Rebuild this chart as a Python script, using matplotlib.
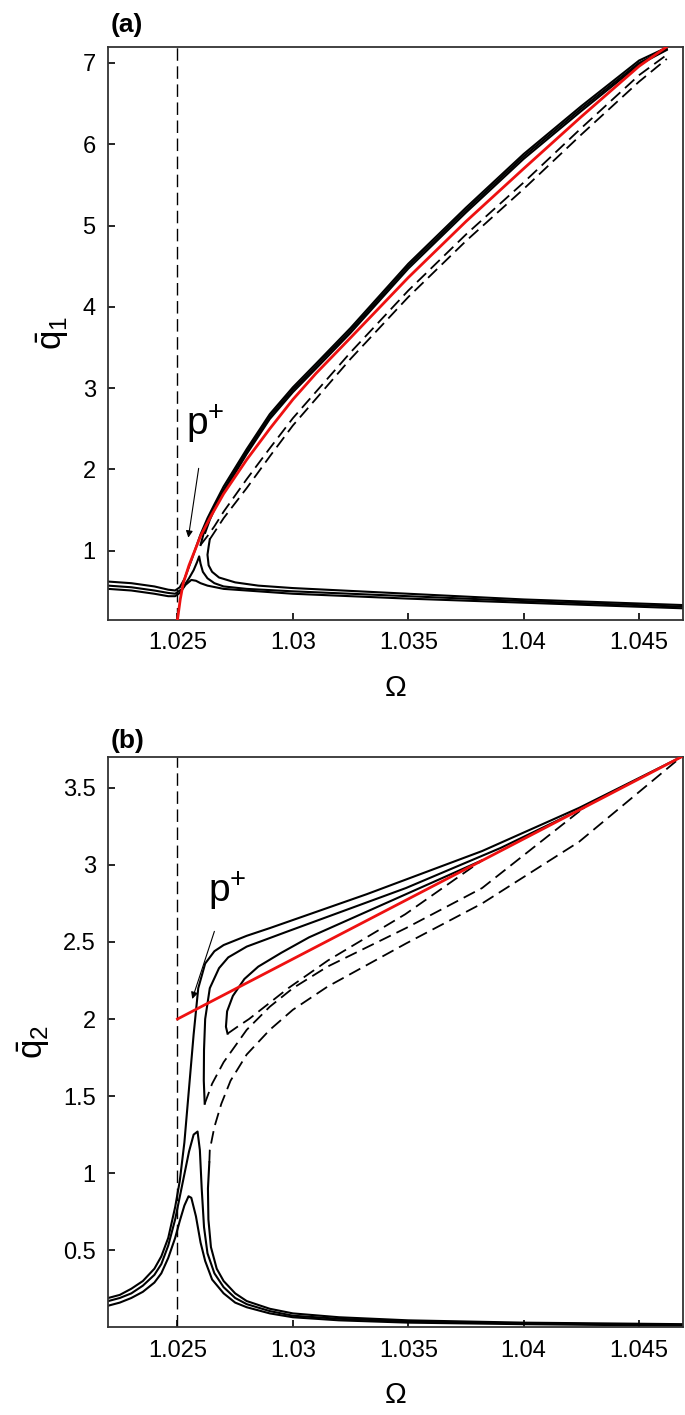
import matplotlib
matplotlib.use("Agg")
import matplotlib.pyplot as plt

plt.rcParams['font.family'] = ['Liberation Sans', 'DejaVu Sans']
plt.rcParams['mathtext.fontset'] = 'custom'
plt.rcParams['mathtext.rm'] = 'Liberation Sans'
plt.rcParams['mathtext.it'] = 'Liberation Sans'

# ---------------- Panel (a): q1 ----------------
a_red_x = [1.025, 1.02512, 1.02525, 1.0255, 1.026, 1.0265, 1.027, 1.028, 1.029, 1.03, 1.031, 1.0325, 1.035, 1.0375, 1.04, 1.0425, 1.045, 1.0462]
a_red_y = [0.15, 0.4, 0.6, 0.82, 1.18, 1.45, 1.7, 2.12, 2.50, 2.86, 3.18, 3.62, 4.36, 5.05, 5.70, 6.34, 6.96, 7.2]

a_A_low_x = [1.022, 1.023, 1.024, 1.0246, 1.0249, 1.0251, 1.02535, 1.0256, 1.0258, 1.026, 1.0263, 1.027, 1.028, 1.03, 1.035, 1.04, 1.047]
a_A_low_y = [0.53, 0.51, 0.47, 0.44, 0.44, 0.48, 0.58, 0.64, 0.63, 0.60, 0.57, 0.53, 0.51, 0.47, 0.41, 0.36, 0.29]
a_B_low_x = [1.022, 1.023, 1.024, 1.0246, 1.0249, 1.0252, 1.0255, 1.0257, 1.02585, 1.02594, 1.026, 1.0261, 1.0263, 1.0266, 1.027, 1.028, 1.03, 1.035, 1.04, 1.047]
a_B_low_y = [0.57, 0.55, 0.51, 0.48, 0.47, 0.53, 0.66, 0.76, 0.86, 0.93, 0.84, 0.74, 0.66, 0.60, 0.56, 0.53, 0.50, 0.44, 0.38, 0.31]
a_C_main_x = [1.022, 1.023, 1.024, 1.0246, 1.0249, 1.0251, 1.0253, 1.0256, 1.026, 1.0263, 1.0266, 1.027, 1.028, 1.029, 1.03, 1.031, 1.0325, 1.035, 1.0375, 1.04, 1.0425, 1.045, 1.0462]
a_C_main_y = [0.62, 0.60, 0.56, 0.52, 0.51, 0.55, 0.65, 0.88, 1.2, 1.40, 1.57, 1.79, 2.25, 2.68, 3.01, 3.30, 3.74, 4.53, 5.22, 5.88, 6.47, 7.03, 7.19]
a_C_low_x = [1.0264, 1.02635, 1.0263, 1.02635, 1.0265, 1.0268, 1.0275, 1.0285, 1.03, 1.035, 1.04, 1.047]
a_C_low_y = [1.14, 1.05, 0.95, 0.82, 0.74, 0.67, 0.61, 0.57, 0.54, 0.47, 0.40, 0.33]
a_C_dash_x = [1.0264, 1.0267, 1.027, 1.028, 1.029, 1.03, 1.0325, 1.035, 1.0375, 1.04, 1.0425, 1.045, 1.0462]
a_C_dash_y = [1.14, 1.27, 1.40, 1.77, 2.16, 2.54, 3.36, 4.12, 4.81, 5.45, 6.12, 6.77, 7.05]
a_B_up_x = [1.0260, 1.0262, 1.0266, 1.027, 1.028, 1.029, 1.03, 1.031, 1.0325, 1.035, 1.0375, 1.04, 1.0425, 1.045, 1.0462]
a_B_up_y = [1.07, 1.28, 1.53, 1.75, 2.22, 2.65, 2.98, 3.27, 3.71, 4.50, 5.19, 5.85, 6.44, 7.0, 7.17]
a_B_dash_x = [1.0260, 1.0263, 1.0266, 1.027, 1.028, 1.029, 1.03, 1.0325, 1.035, 1.0375, 1.04, 1.0425, 1.045, 1.0462]
a_B_dash_y = [1.07, 1.18, 1.3, 1.48, 1.88, 2.26, 2.63, 3.44, 4.20, 4.89, 5.53, 6.2, 6.85, 7.1]
a_A_up_x = [1.0262, 1.0264, 1.0267, 1.027, 1.028, 1.029, 1.03, 1.031, 1.0325, 1.035, 1.0375, 1.04, 1.0425, 1.045, 1.0462]
a_A_up_y = [1.22, 1.38, 1.57, 1.72, 2.19, 2.62, 2.95, 3.24, 3.68, 4.47, 5.16, 5.82, 6.41, 6.98, 7.16]

# ---------------- Panel (b): q2 ----------------
b_red_x = [1.025, 1.04682]
b_red_y = [2.0, 3.70]

b_C_main_x = [1.022, 1.0225, 1.023, 1.0235, 1.024, 1.0243, 1.0246, 1.0249, 1.0251, 1.0253, 1.0255, 1.0257, 1.0259, 1.0262, 1.0266, 1.027, 1.028, 1.029, 1.0332, 1.0382, 1.0424, 1.04682]
b_C_main_y = [0.19, 0.21, 0.25, 0.30, 0.38, 0.46, 0.58, 0.78, 0.95, 1.2, 1.55, 1.9, 2.2, 2.36, 2.44, 2.48, 2.54, 2.59, 2.81, 3.09, 3.37, 3.70]
b_C_low_x = [1.02638, 1.02632, 1.02634, 1.02645, 1.0267, 1.027, 1.0275, 1.028, 1.029, 1.03, 1.032, 1.035, 1.04, 1.047]
b_C_low_y = [1.07, 0.9, 0.7, 0.52, 0.38, 0.30, 0.22, 0.17, 0.12, 0.09, 0.065, 0.045, 0.03, 0.02]
b_C_dash_x = [1.02638, 1.0264, 1.0266, 1.0269, 1.0273, 1.028, 1.029, 1.030, 1.0315, 1.0349, 1.0382, 1.0424, 1.04682]
b_C_dash_y = [1.07, 1.15, 1.3, 1.45, 1.6, 1.77, 1.93, 2.06, 2.21, 2.49, 2.75, 3.15, 3.70]

b_B_low_x = [1.022, 1.0225, 1.023, 1.0235, 1.024, 1.0243, 1.0246, 1.0249, 1.0252, 1.0255, 1.0257, 1.02587, 1.02597, 1.02605, 1.02615, 1.0263, 1.0266, 1.027, 1.0275, 1.028, 1.029, 1.03, 1.032, 1.035, 1.04, 1.047]
b_B_low_y = [0.17, 0.19, 0.22, 0.27, 0.34, 0.41, 0.53, 0.70, 0.92, 1.14, 1.25, 1.27, 1.15, 0.9, 0.65, 0.48, 0.35, 0.26, 0.19, 0.15, 0.105, 0.075, 0.055, 0.038, 0.025, 0.015]
b_B_up_x = [1.02618, 1.02614, 1.02615, 1.0262, 1.0264, 1.0268, 1.0272, 1.028, 1.0298, 1.0349, 1.039, 1.0426]
b_B_up_y = [1.45, 1.6, 1.8, 2.0, 2.2, 2.33, 2.40, 2.47, 2.57, 2.85, 3.11, 3.37]
b_B_dash_x = [1.02618, 1.0265, 1.027, 1.028, 1.029, 1.030, 1.0315, 1.0349, 1.0382, 1.0426]
b_B_dash_y = [1.45, 1.58, 1.72, 1.93, 2.08, 2.2, 2.34, 2.59, 2.85, 3.37]

b_A_low_x = [1.022, 1.0225, 1.023, 1.0235, 1.024, 1.0243, 1.0246, 1.0249, 1.0251, 1.0253, 1.02548, 1.0256, 1.0258, 1.026, 1.0262, 1.0265, 1.027, 1.0275, 1.028, 1.029, 1.03, 1.032, 1.035, 1.04, 1.047]
b_A_low_y = [0.14, 0.16, 0.19, 0.23, 0.29, 0.35, 0.45, 0.58, 0.69, 0.79, 0.85, 0.84, 0.72, 0.55, 0.43, 0.31, 0.22, 0.16, 0.13, 0.09, 0.065, 0.045, 0.03, 0.02, 0.01]
b_A_up_x = [1.02717, 1.0271, 1.02715, 1.0274, 1.0279, 1.0285, 1.0295, 1.0307, 1.0349, 1.0382]
b_A_up_y = [1.905, 1.95, 2.05, 2.15, 2.26, 2.34, 2.43, 2.53, 2.81, 3.03]
b_A_dash_x = [1.02717, 1.0276, 1.0281, 1.0298, 1.03152, 1.03487, 1.0382]
b_A_dash_y = [1.905, 1.95, 2.0, 2.2, 2.38, 2.68, 3.03]

xticks = [1.025, 1.03, 1.035, 1.04, 1.045]
xticklabels = ['1.025', '1.03', '1.035', '1.04', '1.045']
a_yticks = [1, 2, 3, 4, 5, 6, 7]
b_yticks = [0.5, 1, 1.5, 2, 2.5, 3, 3.5]
b_yticklabels = ['0.5', '1', '1.5', '2', '2.5', '3', '3.5']

fig = plt.figure(figsize=(6.85, 14.15), dpi=100)
ax1 = fig.add_axes([0.158, 0.562, 0.839, 0.405])
ax2 = fig.add_axes([0.158, 0.062, 0.839, 0.403])

K = dict(color='black', lw=1.5)
D = dict(color='black', lw=1.3, dashes=(7, 3.5))
R = dict(color='#ee1111', lw=2.0, zorder=5)

for ax in (ax1, ax2):
    ax.axvline(1.025, color='black', lw=1.0, dashes=(9, 4))

ax1.plot(a_A_low_x, a_A_low_y, **K)
ax1.plot(a_B_low_x, a_B_low_y, **K)
ax1.plot(a_C_main_x, a_C_main_y, **K)
ax1.plot(a_C_low_x, a_C_low_y, **K)
ax1.plot(a_A_up_x, a_A_up_y, **K)
ax1.plot(a_B_up_x, a_B_up_y, **K)
ax1.plot(a_C_dash_x, a_C_dash_y, **D)
ax1.plot(a_B_dash_x, a_B_dash_y, **D)
ax1.plot(a_red_x, a_red_y, **R)

ax2.plot(b_C_main_x, b_C_main_y, **K)
ax2.plot(b_C_low_x, b_C_low_y, **K)
ax2.plot(b_B_low_x, b_B_low_y, **K)
ax2.plot(b_B_up_x, b_B_up_y, **K)
ax2.plot(b_A_low_x, b_A_low_y, **K)
ax2.plot(b_A_up_x, b_A_up_y, **K)
ax2.plot(b_C_dash_x, b_C_dash_y, **D)
ax2.plot(b_B_dash_x, b_B_dash_y, **D)
ax2.plot(b_A_dash_x, b_A_dash_y, **D)
ax2.plot(b_red_x, b_red_y, **R)

ax1.set_xlim(1.022, 1.0469)
ax1.set_ylim(0.15, 7.2)
ax2.set_xlim(1.022, 1.0469)
ax2.set_ylim(0.0, 3.7)
ax1.set_yticks(a_yticks)
ax2.set_yticks(b_yticks)
ax2.set_yticklabels(b_yticklabels)
for ax in (ax1, ax2):
    ax.set_xticks(xticks)
    ax.set_xticklabels(xticklabels)
    ax.tick_params(direction='in', labelsize=17, length=5, width=1.2, pad=9)
    for s in ax.spines.values():
        s.set_linewidth(1.3)
        s.set_color('#333333')
    ax.set_xlabel('Ω', fontsize=21, labelpad=14)

ax1.set_ylabel(r'$\bar{\mathrm{q}}_1$', fontsize=25, labelpad=8)
ax2.set_ylabel(r'$\bar{\mathrm{q}}_2$', fontsize=25, labelpad=8)

ax1.annotate(r'p$^{+}$', xy=(1.02547, 1.16), xytext=(1.0262, 2.55), fontsize=28,
             ha='center', va='center',
             arrowprops=dict(arrowstyle='-|>', color='black', lw=0.8, mutation_scale=10,
                             shrinkA=14, shrinkB=0))
ax2.annotate(r'p$^{+}$', xy=(1.02564, 2.13), xytext=(1.02717, 2.83), fontsize=28,
             ha='center', va='center',
             arrowprops=dict(arrowstyle='-|>', color='black', lw=0.8, mutation_scale=10,
                             shrinkA=12, shrinkB=0))

fig.text(0.162, 0.982, '(a)', fontsize=19, fontweight='bold', ha='left', va='center')
fig.text(0.162, 0.476, '(b)', fontsize=19, fontweight='bold', ha='left', va='center')

fig.savefig('out.png', dpi=100)
